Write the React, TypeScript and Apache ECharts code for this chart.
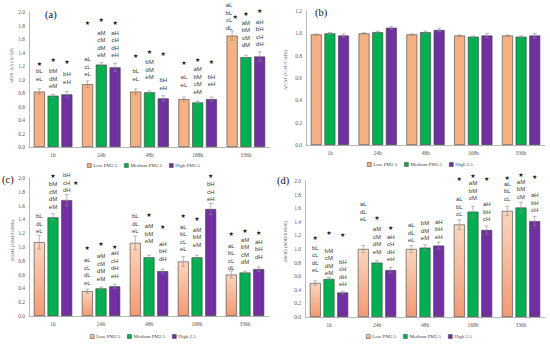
import React, { useEffect, useRef } from "react";
import * as echarts from "echarts";

// ---------- data ----------
const categories = ["1h", "24h", "48h", "168h", "336h"];
const namesA = ["Low PM2.5", "Medium PM2.5", "High PM2.5"];
const namesB = ["Low PM2.5", "Medium PM2.5", "High 2.5"];

// (a) ADX-AA
const aLow = [0.82, 0.93, 0.82, 0.71, 1.65];
const aMed = [0.76, 1.22, 0.81, 0.66, 1.33];
const aHigh = [0.78, 1.18, 0.72, 0.71, 1.34];
const aLowErr = [0.04, 0.05, 0.04, 0.03, 0.07];
const aMedErr = [0.02, 0.03, 0.02, 0.02, 0.03];
const aHighErr = [0.04, 0.06, 0.04, 0.03, 0.07];
const aLowTags = ["bL\neL", "aL\ncL\neL", "bL\neL", "aL\neL", "aL\nbL\ncL\ndL"];
const aMedTags = ["bM\ndM\neM", "aM\ncM\ndM\neM", "bM\ndM\neM", "aM\nbM\ncM\neM", "aM\nbM\ncM\ndM"];
const aHighTags = ["bH\neH", "aH\ncH\ndH\neH", "bH\neH", "bH\neH", "aH\nbH\ncH\ndH"];
const aLowTagY = [1.01, 1.08, 1.01, 0.92, 1.77];
const aMedTagY = [0.9, 1.36, 1.03, 0.82, 1.51];
const aHighTagY = [0.97, 1.36, 0.88, 0.93, 1.52];
const aLowStar = [1.24, 1.84, 1.35, 1.25, 1.93];
const aMedStar = [1.29, 1.89, 1.41, 1.3, 1.98];
const aHighStar = [1.26, 1.85, 1.38, 1.27, 2.02];

// (b) ACAT
const bLow = [0.99, 1.0, 0.99, 0.98, 0.98];
const bMed = [1.0, 1.01, 1.01, 0.97, 0.97];
const bHigh = [0.98, 1.05, 1.03, 0.98, 0.98];
const bLowErr = [0.005, 0.005, 0.005, 0.005, 0.005];
const bMedErr = [0.008, 0.008, 0.01, 0.005, 0.008];
const bHighErr = [0.015, 0.012, 0.015, 0.02, 0.02];

// (c) AGSH
const cLow = [1.07, 0.36, 1.06, 0.79, 0.6];
const cMed = [1.43, 0.4, 0.85, 0.85, 0.63];
const cHigh = [1.68, 0.43, 0.65, 1.55, 0.68];
const cLowErr = [0.1, 0.03, 0.1, 0.07, 0.05];
const cMedErr = [0.05, 0.02, 0.03, 0.03, 0.02];
const cHighErr = [0.08, 0.03, 0.03, 0.08, 0.03];
const cLowTags = ["bL\ndL\neL", "aL\ncL\ndL\neL", "bL\ndL\neL", "aL\nbL\ncL\neL", "aL\nbL\ncL\ndL"];
const cMedTags = ["bM\ncM\ndM\neM", "aM\ncM\ndM\neM", "aM\nbM\neM", "aM\nbM\neM", "aM\nbM\ncM\ndM"];
const cHighTags = ["bH\ncH\ndH", "aH\ncH\ndH\neH", "aH\nbH\ndH", "bH\ncH\neH", "aH\nbH\ndH"];
const cLowTagY = [1.23, 0.48, 1.23, 0.97, 0.69];
const cMedTagY = [1.58, 0.54, 1.08, 1.03, 0.78];
const cHighTagY = [1.82, 0.58, 0.83, 1.69, 0.86];
const cLowStar = [null, 0.99, null, 1.45, 1.19];
const cMedStar = [2.03, 1.05, 1.47, 1.42, 1.24];
const cHighStar = [1.94, 1.01, 1.3, 2.03, 1.21];

// (d) ASOD
const dLow = [0.5, 1.0, 1.0, 1.36, 1.56];
const dMed = [0.56, 0.8, 1.02, 1.55, 1.61];
const dHigh = [0.36, 0.69, 1.05, 1.28, 1.41];
const dLowErr = [0.03, 0.05, 0.05, 0.07, 0.07];
const dMedErr = [0.02, 0.03, 0.04, 0.08, 0.08];
const dHighErr = [0.02, 0.04, 0.05, 0.06, 0.07];
const dLowTags = ["bL\ncL\ndL\neL", "aL\ndL\neL", "aL\ndL\neL", "aL\nbL\ncL", "aL\nbL\ncL"];
const dMedTags = ["bM\ncM\ndM\neM", "aM\ncM\ndM\neM", "bM\ndM\neM", "aM\nbM\ncM", "aM\nbM\ncM"];
const dHighTags = ["bH\ncH\ndH\neH", "aH\ncH\ndH\neH", "aH\nbH\neH", "aH\nbH\ncH", "aH\nbH\ncH"];
const dLowTagY = [0.69, 1.44, 1.13, 1.51, 1.74];
const dMedTagY = [0.64, 0.96, 1.16, 1.75, 1.77];
const dHighTagY = [0.48, 0.85, 1.18, 1.44, 1.57];
const dLowStar = [1.17, null, null, 2.04, 2.05];
const dMedStar = [1.24, 1.47, null, 2.08, 2.09];
const dHighStar = [1.21, 1.32, null, 2.04, 2.06];

// ---------- layout tweaks (px) ----------
const starShift: Record<string, number> = { "a-0-4": 3, "c-2-0": 9 };
const tagShift: Record<string, number> = { "a-0-4": -3 };

type Panel = {
  key: string;
  label: string;
  yTitle: string;
  max: number;
  names: string[];
  values: number[][];
  errs: number[][];
  tags?: string[][];
  tagY?: number[][];
  stars?: (number | null)[][];
  grid: { left: number; right: number; top: number; bottom: number };
  legendPos: [number, number];
  labelPos: [number, number];
  titlePos: [number, number];
  gradient: boolean;
  panelLeft: number;
  panelTop: number;
};

const panels: Panel[] = [
  {
    key: "a", label: "(a)", yTitle: "ADX-AA (A/A0)", max: 2.0, names: namesA,
    values: [aLow, aMed, aHigh], errs: [aLowErr, aMedErr, aHighErr],
    tags: [aLowTags, aMedTags, aHighTags], tagY: [aLowTagY, aMedTagY, aHighTagY],
    stars: [aLowStar, aMedStar, aHighStar],
    grid: { left: 29, right: 5, top: 12, bottom: 25 },
    legendPos: [87, 163], labelPos: [45, 9], titlePos: [11, 66], gradient: false,
    panelLeft: 0, panelTop: 0,
  },
  {
    key: "b", label: "(b)", yTitle: "ACAT (CAT/CAT0)", max: 1.2, names: namesB,
    values: [bLow, bMed, bHigh], errs: [bLowErr, bMedErr, bHighErr],
    grid: { left: 31, right: 5, top: 11, bottom: 27 },
    legendPos: [92, 162], labelPos: [40, 7], titlePos: [10, 70], gradient: false,
    panelLeft: 275, panelTop: 0,
  },
  {
    key: "c", label: "(c)", yTitle: "AGSH (GSH/GSH0)", max: 2.0, names: namesB,
    values: [cLow, cMed, cHigh], errs: [cLowErr, cMedErr, cHighErr],
    tags: [cLowTags, cMedTags, cHighTags], tagY: [cLowTagY, cMedTagY, cHighTagY],
    stars: [cLowStar, cMedStar, cHighStar],
    grid: { left: 29, right: 6, top: 6, bottom: 28 },
    legendPos: [90, 162], labelPos: [2, 2], titlePos: [12, 69], gradient: true,
    panelLeft: 0, panelTop: 172,
  },
  {
    key: "d", label: "(d)", yTitle: "ASOD (SOD/SOD0)", max: 2.0, names: namesB,
    values: [dLow, dMed, dHigh], errs: [dLowErr, dMedErr, dHighErr],
    tags: [dLowTags, dMedTags, dHighTags], tagY: [dLowTagY, dMedTagY, dHighTagY],
    stars: [dLowStar, dMedStar, dHighStar],
    grid: { left: 30, right: 5, top: 9, bottom: 27 },
    legendPos: [91, 162], labelPos: [2, 3], titlePos: [10, 70], gradient: true,
    panelLeft: 275, panelTop: 172,
  },
];

const SERIF = "'Liberation Serif', 'Times New Roman', serif";
const SANS = "'Liberation Sans', Arial, sans-serif";
const LINE_H = 7.5;

function barColors(gradient: boolean): any[] {
  const low = gradient
    ? new echarts.graphic.LinearGradient(0, 0, 0, 1, [
        { offset: 0, color: "#FBD6BF" },
        { offset: 1, color: "#F29A74" },
      ])
    : "#F4B183";
  return [low, "#00B050", "#7030A0"];
}

function buildOption(p: Panel): any {
  const colors = barColors(p.gradient);
  const series: any[] = [];
  for (let i = 0; i < 3; i++) {
    series.push({
      type: "bar",
      name: p.names[i],
      data: p.values[i],
      barGap: "25%",
      barCategoryGap: "20%",
      itemStyle: { color: colors[i], borderColor: "#404040", borderWidth: 0.6 },
      z: 2,
    });
  }
  for (let i = 0; i < 3; i++) {
    const idx = i;
    series.push({
      type: "custom",
      silent: true,
      clip: false,
      z: 10,
      encode: { x: 0, y: 1 },
      data: p.values[i].map((v, j) => [j, v, p.errs[i][j]]),
      renderItem: (params: any, api: any) => {
        const j = params.dataIndex;
        const v = api.value(1);
        const e = api.value(2);
        const bandW = api.size([1, 0])[0];
        const step = ((bandW * 0.8) / 3.5) * 1.25;
        const c = api.coord([j, v]);
        const x = c[0] + (idx - 1) * step;
        const yT = api.coord([j, v + e])[1];
        const yB = api.coord([j, v - e])[1];
        const cap = 2;
        const es = { stroke: "#8C8C8C", lineWidth: 0.6 };
        const kids: any[] = [
          { type: "line", shape: { x1: x, y1: yT, x2: x, y2: yB }, style: es },
          { type: "line", shape: { x1: x - cap, y1: yT, x2: x + cap, y2: yT }, style: es },
          { type: "line", shape: { x1: x - cap, y1: yB, x2: x + cap, y2: yB }, style: es },
        ];
        const k = `${p.key}-${idx}-${j}`;
        if (p.tags && p.tagY) {
          const ty = api.coord([j, p.tagY[idx][j]])[1] + LINE_H / 2;
          kids.push({
            type: "text",
            x: x + (tagShift[k] || 0),
            y: ty,
            style: {
              text: p.tags[idx][j],
              fill: "#404040",
              fontSize: 6,
              fontFamily: SANS,
              lineHeight: LINE_H,
              align: "center",
              verticalAlign: "bottom",
              textAlign: "center",
              textVerticalAlign: "bottom",
            },
          });
        }
        if (p.stars) {
          const s = p.stars[idx][j];
          if (s !== null && s !== undefined) {
            const sy = api.coord([j, s])[1];
            kids.push({
              type: "text",
              x: x + (starShift[k] || 0),
              y: sy,
              style: {
                text: "★",
                fill: "#1a1a1a",
                fontSize: 6,
                fontFamily: "'DejaVu Sans', sans-serif",
                align: "center",
                verticalAlign: "middle",
                textAlign: "center",
                textVerticalAlign: "middle",
              },
            });
          }
        }
        return { type: "group", children: kids };
      },
    });
  }

  return {
    animation: false,
    backgroundColor: "#ffffff",
    title: {
      text: p.label,
      left: p.labelPos[0],
      top: p.labelPos[1],
      padding: 0,
      textStyle: { fontFamily: SERIF, fontSize: 10.5, fontWeight: "normal", color: "#111" },
    },
    legend: {
      data: p.names,
      left: p.legendPos[0],
      top: p.legendPos[1],
      padding: 0,
      icon: "rect",
      itemWidth: 4,
      itemHeight: 4,
      itemGap: 7,
      selectedMode: false,
      itemStyle: { borderColor: "#404040", borderWidth: 0.5 },
      textStyle: { fontFamily: SERIF, fontSize: 5, color: "#404040", padding: [0, 0, 0, -3] },
    },
    graphic: [
      {
        type: "text",
        x: p.titlePos[0],
        y: p.titlePos[1],
        rotation: Math.PI / 2,
        style: {
          text: p.yTitle,
          fill: "#595959",
          font: `5px ${SERIF}`,
          align: "center",
          verticalAlign: "middle",
          textAlign: "center",
          textVerticalAlign: "middle",
        },
      },
    ],
    grid: { ...p.grid, containLabel: false },
    xAxis: {
      type: "category",
      data: categories,
      axisLine: { lineStyle: { color: "#A6A6A6", width: 0.8 } },
      axisTick: { show: false },
      axisLabel: { fontFamily: SERIF, fontSize: 5.5, color: "#595959", margin: 5 },
      splitLine: { show: false },
    },
    yAxis: {
      type: "value",
      min: 0,
      max: p.max,
      interval: 0.2,
      axisLine: { show: true, lineStyle: { color: "#A6A6A6", width: 0.8 } },
      axisTick: { show: false },
      axisLabel: {
        fontFamily: SERIF,
        fontSize: 5.5,
        color: "#595959",
        margin: 4,
        formatter: (v: number) => v.toFixed(1),
      },
      splitLine: { show: false },
    },
    series,
  };
}

function ChartPanel({ panel }: { panel: Panel }) {
  const ref = useRef<HTMLDivElement>(null);
  useEffect(() => {
    if (!ref.current) return;
    const chart = echarts.init(ref.current, undefined, { renderer: "svg" });
    chart.setOption(buildOption(panel));
    return () => chart.dispose();
  }, [panel]);
  return (
    <div
      ref={ref}
      style={{
        position: "absolute",
        left: panel.panelLeft,
        top: panel.panelTop,
        width: 275,
        height: 172,
      }}
    />
  );
}

export default function App() {
  return (
    <div
      style={{
        position: "absolute",
        left: 0,
        top: 0,
        width: 550,
        height: 344,
        background: "#ffffff",
        overflow: "hidden",
      }}
    >
      {panels.map((p) => (
        <ChartPanel key={p.key} panel={p} />
      ))}
    </div>
  );
}
